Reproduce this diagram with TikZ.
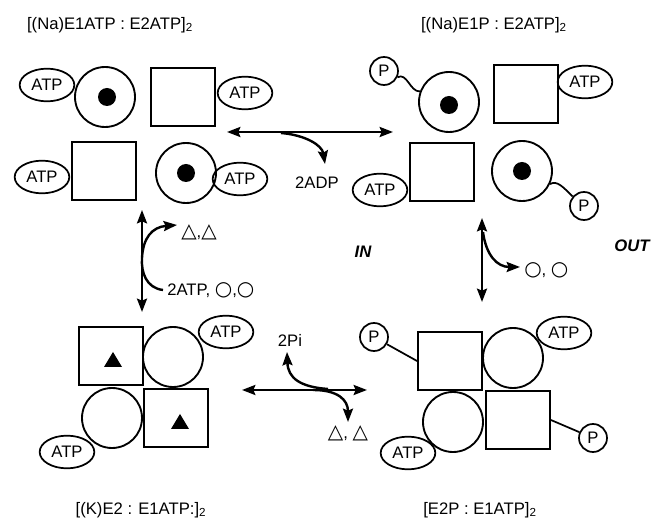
\documentclass[tikz,border=0pt]{standalone}
\usepackage{fontspec}
\setmainfont{Liberation Sans}
\newfontfamily\symfont{DejaVu Sans}
\usetikzlibrary{shapes.geometric,arrows.meta,calc}
\newcommand{\mytri}{{\symfont\fontsize{15}{15}\selectfont △}}
\newcommand{\myring}{{\symfont\fontsize{15}{15}\selectfont ○}}
\begin{document}
\begin{tikzpicture}[x=0.75pt,y=-0.75pt,
  every node/.style={font=\fontsize{12.5}{14}\selectfont},
  sub/.style={draw,line width=1.4pt,circle,minimum size=45pt,inner sep=0pt},
  box/.style={draw,line width=1.4pt,rectangle,minimum width=48pt,minimum height=44pt,inner sep=0pt},
  atp/.style={draw,line width=1.3pt,ellipse,minimum width=41pt,minimum height=24.5pt,inner sep=0pt},
  pho/.style={draw,line width=1.3pt,circle,minimum size=21pt,inner sep=0pt},
  conn/.style={line width=1.8pt},
  link/.style={line width=1.3pt},
  tip/.style={-{Stealth[length=10pt,width=7.5pt,inset=1.5pt]}},
  both/.style={{Stealth[length=10pt,width=7.5pt,inset=1.5pt]}-{Stealth[length=10pt,width=7.5pt,inset=1.5pt]}},
  lab/.style={inner sep=0pt},
  side/.style={inner sep=0pt,font=\fontsize{12.5}{14}\selectfont\bfseries\itshape}
]
\useasboundingbox (0,0) rectangle (658,527);

% ---------- titles ----------
\node[lab] (t1) at (110,25) {[(Na)E1ATP : E2ATP]\textsubscript{2}};
\node[lab] (t2) at (494,25) {[(Na)E1P : E2ATP]\textsubscript{2}};
\node[lab] (t3) at (141,510) {[(K)E2 : E1ATP:]\textsubscript{2}};
\node[lab] (t4) at (480,510) {[E2P : E1ATP]\textsubscript{2}};

% ---------- top left ----------
\node[atp] (tlA1) at (47,85) {ATP};
\node[sub] (tlC1) at (105,97) {};
\fill (tlC1) ++(2,0) circle (9);
\node[box] (tlS1) at (183,97) {};
\node[atp] (tlA2) at (245,93) {ATP};
\node[atp] (tlA3) at (42,177) {ATP};
\node[box] (tlS2) at (104,171) {};
\node[sub] (tlC2) at (186,173) {};
\fill (tlC2) circle (9);
\node[atp] (tlA4) at (240,179) {ATP};

% ---------- top right ----------
\node[pho] (trP1) at (384,71) {P};
\node[sub] (trC1) at (449,102) {};
\fill (trC1) ++(0,3) circle (9);
\node[box] (trS1) at (526,94) {};
\node[atp] (trA1) at (585,82) {ATP};
\node[atp] (trA2) at (380,190) {ATP};
\node[box] (trS2) at (442,172) {};
\node[sub] (trC2) at (522,171) {};
\fill (trC2) circle (9);
\node[pho] (trP2) at (584,206) {P};
\draw[link] (trP1.-25) .. controls (407,72) and (410,92) .. (trC1.160);
\draw[link] (trC2.-25) .. controls (557,180) and (563,187) .. (trP2.140);

% ---------- bottom left ----------
\node[box] (blS1) at (111,356) {};
\fill (blS1) ++(-7,11) -- ++(18,0) -- ++(-9,-15) -- cycle;
\node[sub] (blC1) at (173,357) {};
\node[atp] (blA1) at (226,332) {ATP};
\node[sub] (blC2) at (112,418) {};
\node[box] (blS2) at (176,418) {};
\fill (blS2) ++(-5,11) -- ++(18,0) -- ++(-9,-15) -- cycle;
\node[atp] (blA2) at (67,452) {ATP};

% ---------- bottom right ----------
\node[pho] (brP1) at (374,337) {P};
\node[box] (brS1) at (450,361) {};
\node[sub] (brC1) at (513,358) {};
\node[atp] (brA1) at (564,333) {ATP};
\node[sub] (brC2) at (453,422) {};
\node[box] (brS2) at (518,420) {};
\node[pho] (brP2) at (593,438) {P};
\node[atp] (brA2) at (408,453) {ATP};
\draw[link] (brP1) -- (brS1.west);
\draw[link] (brS2.east) -- (brP2);

% ---------- labels ----------
\node[lab] (adp) at (317,183) {2ADP};
\node[lab,anchor=west] (tri1) at (181,232) {\mytri,\mytri};
\node[lab,anchor=west] (atpin) at (167,290) {2ATP, \myring,\myring};
\node[lab,anchor=west] (ring2) at (524,270) {\myring, \myring};
\node[lab] (pi) at (290,340) {2Pi};
\node[lab] (tri2) at (348,433) {\mytri, \mytri};
\node[side] (in) at (363,252) {IN};
\node[side] (out) at (632,246) {OUT};

% ---------- reaction arrows ----------
\coordinate (h1a) at (227,132); \coordinate (h1b) at (393,132);
\draw[conn,both] (h1a) -- (h1b);
\coordinate (h1s) at (281,133); \coordinate (h1e) at (325,164);
\draw[conn,tip] (h1s) .. controls (305,135) and (322,145) .. (h1e);

\coordinate (v1a) at (142,210); \coordinate (v1b) at (142,312);
\draw[conn,both] (v1a) -- (v1b);
\coordinate (v1s) at (163,290); \coordinate (v1e) at (177,225);
\draw[conn,tip] (v1s) .. controls (146,288) and (141,272) .. (142,258)
  .. controls (143,238) and (152,227) .. (v1e);

\coordinate (v2a) at (482,218); \coordinate (v2b) at (482,302);
\draw[conn,both] (v2a) -- (v2b);
\coordinate (v2s) at (483,232); \coordinate (v2e) at (520,267);
\draw[conn,tip] (v2s) .. controls (486,255) and (497,267) .. (v2e);

\coordinate (h2a) at (242,390); \coordinate (h2b) at (367,390);
\draw[conn,both] (h2a) -- (h2b);
\coordinate (h2s) at (328,389); \coordinate (h2e) at (287,352);
\draw[conn,tip] (h2s) .. controls (300,387) and (288,378) .. (h2e);
\coordinate (h2t) at (313,390); \coordinate (h2f) at (348,422);
\draw[conn,tip] (h2t) .. controls (338,390) and (348,400) .. (h2f);
\end{tikzpicture}
\end{document}
